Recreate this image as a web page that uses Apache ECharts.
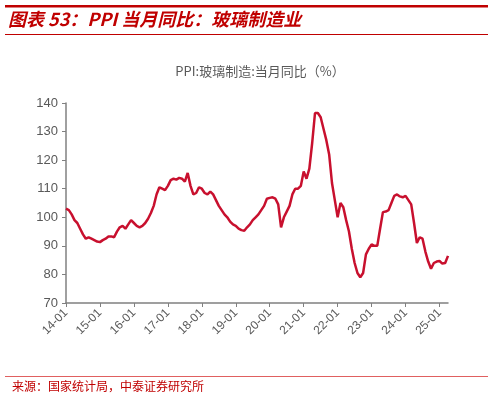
<!DOCTYPE html>
<html>
<head>
<meta charset="utf-8">
<script src="https://cdn.jsdelivr.net/npm/echarts@6/dist/echarts.min.js"></script>
<style>
  html, body { margin: 0; padding: 0; background: #fff; }
  #chart { width: 493px; height: 400px; }
</style>
</head>
<body>
<div id="chart"></div>
<script>
// PPI:玻璃制造:当月同比, 2014-01 .. 2025-04
const years = [14, 15, 16, 17, 18, 19, 20, 21, 22, 23, 24, 25];
const values2014 = [103, 102.5, 101, 99, 98, 96, 94, 92.5, 93, 92.5, 92, 91.5];
const values2015 = [91.3, 92, 92.5, 93.3, 93.3, 93, 95, 96.5, 97, 96, 97.5, 99];
const values2016 = [98, 97, 96.5, 97, 98, 99.5, 101.5, 104, 108, 110.5, 110, 109.5];
const values2017 = [111, 113, 113.5, 113.2, 113.8, 113.5, 112.5, 115.5, 111, 108, 108.5, 110.5];
const values2018 = [110, 108.5, 108, 109, 108, 106, 104, 102.5, 101, 100, 98.5, 97.5];
const values2019 = [97, 96, 95.5, 95.3, 96.5, 97.5, 99, 100, 101, 102.5, 104, 106.5];
const values2020 = [106.8, 107, 106.5, 104.5, 96.5, 100, 102, 104, 108, 110, 110, 111];
const values2021 = [116, 113.5, 117, 126, 136.5, 136.5, 135, 131, 127, 122, 112, 106];
const values2022 = [100, 105, 103.5, 99, 95, 89, 84, 80.5, 79, 80.5, 87, 89];
const values2023 = [90.5, 90, 90, 96, 101.8, 102, 102.5, 105, 107.5, 108, 107.3, 107];
const values2024 = [107.5, 106, 104.5, 98, 91, 93, 92.5, 88, 84.5, 82, 84, 84.5];
const values2025 = [84.7, 83.8, 84, 86.5];
const yTicks = { min: 70, max: 140, interval: 10 };

const values = [].concat(values2014, values2015, values2016, values2017, values2018,
  values2019, values2020, values2021, values2022, values2023, values2024, values2025);
const categories = [];
years.forEach(function (y) {
  for (let m = 1; m <= 12; m++) {
    categories.push(y + '-' + (m < 10 ? '0' + m : m));
  }
});
categories.length = values.length;

const red = '#c00000';
const chart = echarts.init(document.getElementById('chart'));
chart.setOption({
  animation: false,
  title: {
    text: 'PPI:玻璃制造:当月同比（%）',
    left: 255, top: 60, textAlign: 'center',
    textStyle: { fontSize: 13, fontWeight: 'normal', color: '#595959', fontFamily: 'Noto Sans CJK SC' }
  },
  graphic: [
    { type: 'rect', shape: { x: 5, y: 5, width: 483, height: 2.5 }, style: { fill: red } },
    { type: 'text', left: 8, top: 10,
      style: { text: '图表 53：PPI 当月同比：玻璃制造业', fill: red,
        font: 'italic bold 18px "Noto Sans CJK SC"' } },
    { type: 'rect', shape: { x: 5, y: 34, width: 483, height: 1 }, style: { fill: red } },
    { type: 'rect', shape: { x: 5, y: 376, width: 483, height: 1 }, style: { fill: '#e06060' } },
    { type: 'text', left: 12, top: 380,
      style: { text: '来源：国家统计局，中泰证券研究所', fill: red,
        font: '12px "Noto Sans CJK SC"' } }
  ],
  grid: { left: 66, right: 45, top: 103, bottom: 97 },
  xAxis: {
    type: 'category',
    data: categories,
    boundaryGap: false,
    axisLine: { lineStyle: { color: '#808080', width: 1.5 } },
    axisTick: { interval: function (i) { return i % 12 === 0; }, lineStyle: { color: '#808080' }, length: 4 },
    axisLabel: {
      interval: function (i) { return i % 12 === 0; },
      rotate: 45, color: '#595959', fontSize: 12, fontFamily: 'Liberation Sans', margin: 8
    }
  },
  yAxis: {
    type: 'value',
    min: yTicks.min, max: yTicks.max, interval: yTicks.interval,
    axisLine: { show: true, lineStyle: { color: '#808080', width: 1.5 } },
    axisTick: { show: true, lineStyle: { color: '#808080' }, length: 4 },
    splitLine: { show: false },
    axisLabel: { color: '#595959', fontSize: 13, fontFamily: 'Liberation Sans', margin: 8 }
  },
  series: [{
    type: 'line',
    data: values,
    showSymbol: false,
    lineStyle: { color: '#c8102e', width: 2.5 }
  }]
});
</script>
</body>
</html>
